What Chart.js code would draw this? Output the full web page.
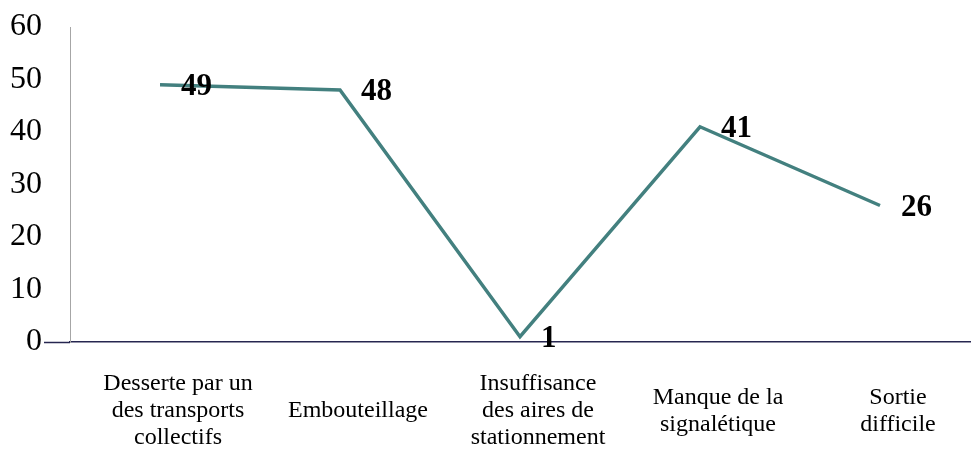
<!DOCTYPE html>
<html>
<head>
<meta charset="utf-8">
<script src="https://cdn.jsdelivr.net/npm/chart.js@4"></script>
<style>
  html, body { margin: 0; padding: 0; background: #fff; }
  #wrap { width: 971px; height: 451px; }
</style>
</head>
<body>
<div id="wrap"><canvas id="lineChart"></canvas></div>
<script>
// categories (multi-line labels) and values
const categories = [
  ["Desserte par un", "des transports", "collectifs"],
  "Embouteillage",
  ["Insuffisance", "des aires de", "stationnement"],
  ["Manque de la", "signalétique"],
  ["Sortie", "difficile"]
];
const values = [49, 48, 1, 41, 26];
const yTicks = [0, 10, 20, 30, 40, 50, 60];

const serif = "'Liberation Serif', 'Times New Roman', serif";

// value labels drawn just to the right of each point
const valueLabels = {
  id: "valueLabels",
  afterDatasetsDraw(chart) {
    const ctx = chart.ctx;
    const meta = chart.getDatasetMeta(0);
    ctx.save();
    ctx.font = "bold 31px " + serif;
    ctx.fillStyle = "#000";
    ctx.textAlign = "left";
    ctx.textBaseline = "middle";
    meta.data.forEach((pt, i) => {
      ctx.fillText(String(values[i]), pt.x + 21, pt.y + 2);
    });
    ctx.restore();
  }
};

new Chart(document.getElementById("lineChart"), {
  type: "line",
  data: {
    labels: categories,
    datasets: [{
      data: values,
      borderColor: "#43807f",
      borderWidth: 3.5,
      pointRadius: 0,
      tension: 0,
      fill: false
    }]
  },
  options: {
    responsive: true,
    maintainAspectRatio: false,
    animation: false,
    layout: { padding: { top: 27, right: 1, left: 0, bottom: 0 } },
    plugins: {
      legend: { display: false },
      tooltip: { enabled: false }
    },
    scales: {
      x: {
        offset: true,
        afterFit: scale => { scale.height = 109; },
        grid: { display: false, drawTicks: false },
        border: { display: true, color: "#262650", width: 1.5 },
        ticks: {
          color: "#000",
          font: { family: serif, size: 24, lineHeight: 1.125 },
          padding: 42,
          labelOffset: 18,
          maxRotation: 0,
          autoSkip: false,
          crossAlign: "center"
        }
      },
      y: {
        min: 0,
        max: 60,
        afterBuildTicks: scale => { scale.ticks = yTicks.map(v => ({ value: v })); },
        afterFit: scale => { scale.width = 70; },
        grid: {
          drawOnChartArea: false,
          drawTicks: true,
          tickLength: 26,
          tickWidth: 1.5,
          tickColor: c => (c.tick && c.tick.value === 0 ? "#262650" : "rgba(0,0,0,0)")
        },
        border: { display: true, color: "#a6a6a6", width: 1 },
        ticks: {
          color: "#000",
          font: { family: serif, size: 32 },
          padding: 2
        }
      }
    }
  },
  plugins: [valueLabels]
});
</script>
</body>
</html>
